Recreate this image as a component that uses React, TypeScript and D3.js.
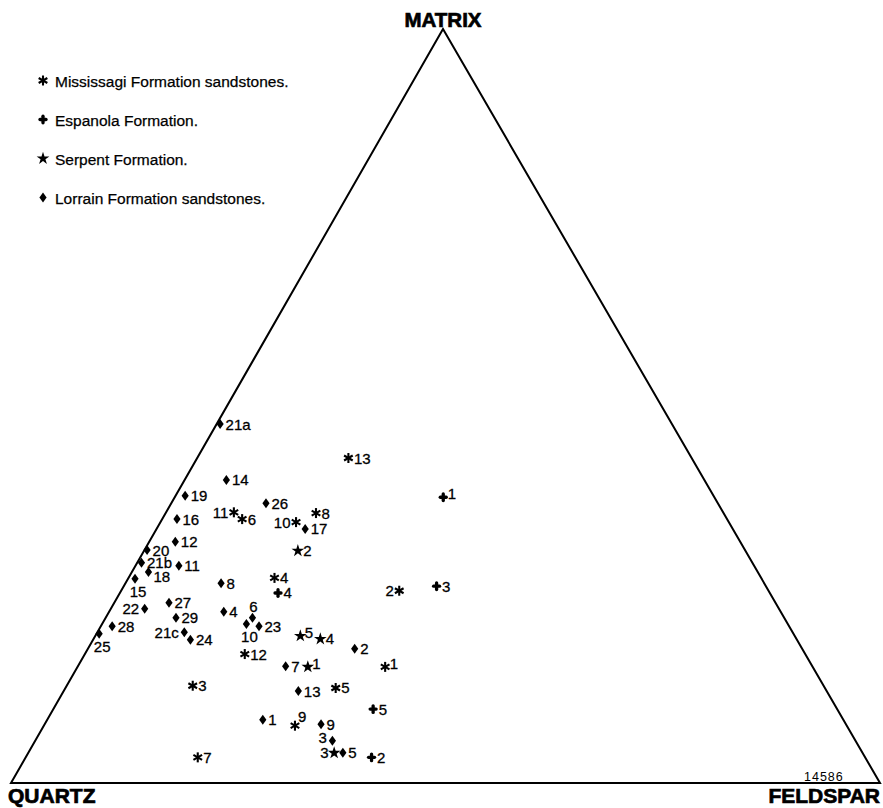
import React from "react";
import * as d3 from "d3";

type Sample = { id: string; q: number; f: number; m: number };

// Ternary percentages (Quartz, Feldspar, Matrix)
const mississagi: Sample[] = [
  { id: "1", q: 49.2, f: 35.4, m: 15.4 },
  { id: "2", q: 42.5, f: 32.0, m: 25.5 },
  { id: "3", q: 72.6, f: 14.5, m: 12.9 },
  { id: "4", q: 56.0, f: 16.8, m: 27.2 },
  { id: "5", q: 56.3, f: 31.1, m: 12.6 },
  { id: "6", q: 55.8, f: 9.2, m: 35.0 },
  { id: "7", q: 76.8, f: 19.8, m: 3.4 },
  { id: "8", q: 46.9, f: 17.3, m: 35.8 },
  { id: "9", q: 63.5, f: 28.9, m: 7.6 },
  { id: "10", q: 49.8, f: 15.6, m: 34.6 },
  { id: "11", q: 56.3, f: 7.8, m: 35.9 },
  { id: "12", q: 64.5, f: 18.4, m: 17.1 },
  { id: "13", q: 39.5, f: 17.4, m: 43.1 },
];

const espanola: Sample[] = [
  { id: "1", q: 31.2, f: 30.9, m: 37.9 },
  { id: "2", q: 56.8, f: 39.8, m: 3.4 },
  { id: "3", q: 37.9, f: 36.0, m: 26.1 },
  { id: "4", q: 56.6, f: 18.2, m: 25.2 },
  { id: "5", q: 53.4, f: 36.8, m: 9.8 },
];

const serpent: Sample[] = [
  { id: "1", q: 58.1, f: 26.5, m: 15.4 },
  { id: "2", q: 51.5, f: 17.7, m: 30.8 },
  { id: "3", q: 60.8, f: 35.2, m: 4.0 },
  { id: "4", q: 54.8, f: 26.1, m: 19.1 },
  { id: "5", q: 56.9, f: 23.6, m: 19.5 },
];

const lorrain: Sample[] = [
  { id: "1", q: 66.8, f: 24.8, m: 8.4 },
  { id: "2", q: 51.5, f: 30.7, m: 17.8 },
  { id: "3", q: 60.2, f: 34.2, m: 5.6 },
  { id: "4", q: 64.1, f: 13.2, m: 22.7 },
  { id: "5", q: 59.8, f: 36.2, m: 4.0 },
  { id: "6", q: 61.2, f: 16.9, m: 21.9 },
  { id: "7", q: 60.6, f: 23.9, m: 15.5 },
  { id: "8", q: 62.5, f: 11.0, m: 26.5 },
  { id: "9", q: 60.4, f: 31.8, m: 7.8 },
  { id: "10", q: 62.3, f: 16.6, m: 21.1 },
  { id: "11", q: 66.2, f: 5.0, m: 28.8 },
  { id: "12", q: 65.0, f: 3.0, m: 32.0 },
  { id: "13", q: 60.8, f: 27.0, m: 12.2 },
  { id: "14", q: 55.0, f: 4.8, m: 40.2 },
  { id: "15", q: 72.1, f: 0.8, m: 27.1 },
  { id: "16", q: 63.3, f: 1.7, m: 35.0 },
  { id: "17", q: 49.2, f: 17.1, m: 33.7 },
  { id: "18", q: 70.1, f: 1.9, m: 28.0 },
  { id: "19", q: 60.8, f: 1.1, m: 38.1 },
  { id: "20", q: 68.8, f: 0.3, m: 30.9 },
  { id: "21a", q: 52.0, f: 0.4, m: 47.6 },
  { id: "21b", q: 70.3, f: 0.5, m: 29.2 },
  { id: "21c", q: 70.0, f: 10.0, m: 20.0 },
  { id: "22", q: 73.0, f: 3.9, m: 23.1 },
  { id: "23", q: 61.0, f: 18.2, m: 20.8 },
  { id: "24", q: 69.8, f: 11.2, m: 19.0 },
  { id: "25", q: 79.9, f: 0.3, m: 19.8 },
  { id: "26", q: 52.0, f: 10.9, m: 37.1 },
  { id: "27", q: 69.8, f: 6.3, m: 23.9 },
  { id: "28", q: 77.9, f: 1.3, m: 20.8 },
  { id: "29", q: 70.0, f: 8.1, m: 21.9 },
];

const vertexLabels = ["QUARTZ", "FELDSPAR", "MATRIX"];
const legendLabels = [
  "Mississagi Formation sandstones.",
  "Espanola Formation.",
  "Serpent Formation.",
  "Lorrain Formation sandstones.",
];
const figureNumber = "14586";

// label side: r (right), ru (right raised), rd (right lowered), l (left), lu (left raised),
// t (top), b (below), tr (top-right)
const labelSide: Record<string, string> = {
  "L:15": "b",
  "L:22": "l",
  "L:6": "t",
  "L:10": "b",
  "L:21c": "l",
  "L:25": "b",
  "L:3": "lu",
  "L:18": "rd",
  "M:11": "l",
  "M:10": "l",
  "M:2": "l",
  "M:9": "tr",
  "M:1": "ru",
  "S:1": "ru",
  "S:5": "ru",
  "E:1": "ru",
  "S:3": "l",
};

const W = 883;
const H = 808;
const Q0 = { x: 11, y: 783 };
const F0 = { x: 880, y: 783 };
const M0 = { x: 443, y: 29 };

const fx = d3.scaleLinear().domain([0, 100]).range([0, F0.x - Q0.x]);
const mx = d3.scaleLinear().domain([0, 100]).range([0, M0.x - Q0.x]);
const my = d3.scaleLinear().domain([0, 100]).range([Q0.y, M0.y]);

function project(s: Sample): [number, number] {
  const tot = s.q + s.f + s.m;
  const f = (s.f / tot) * 100;
  const m = (s.m / tot) * 100;
  return [Q0.x + fx(f) + mx(m), my(m)];
}

const FONT = "'Liberation Sans', Arial, Helvetica, sans-serif";

function Asterisk({ x, y, r = 5 }: { x: number; y: number; r?: number }) {
  const angles = [90, 30, 150];
  return (
    <g>
      {angles.map((a) => {
        const rad = (a * Math.PI) / 180;
        const dx = Math.cos(rad) * r;
        const dy = Math.sin(rad) * r;
        return (
          <line key={a} x1={x - dx} y1={y - dy} x2={x + dx} y2={y + dy} stroke="#000" strokeWidth={2.1} />
        );
      })}
    </g>
  );
}

function Cross({ x, y }: { x: number; y: number }) {
  return (
    <g stroke="#000" strokeWidth={3.3} strokeLinecap="round">
      <line x1={x - 3} y1={y} x2={x + 3} y2={y} />
      <line x1={x} y1={y - 3.3} x2={x} y2={y + 3.3} />
    </g>
  );
}

const starPath = d3.symbol().type(d3.symbolStar).size(50)() as string;
function Star({ x, y }: { x: number; y: number }) {
  return <path d={starPath} transform={`translate(${x},${y})`} fill="#000" />;
}

function Diamond({ x, y }: { x: number; y: number }) {
  const w = 3.6;
  const h = 5;
  return <path d={`M${x},${y - h}L${x + w},${y}L${x},${y + h}L${x - w},${y}Z`} fill="#000" />;
}

function Label({ x, y, text, side }: { x: number; y: number; text: string; side: string }) {
  let tx = x + 5.5;
  let ty = y + 5.5;
  let anchor = "start";
  if (side === "l") {
    tx = x - 5.5;
    anchor = "end";
  } else if (side === "lu") {
    tx = x - 5.5;
    ty = y + 2.5;
    anchor = "end";
  } else if (side === "ru") {
    tx = x + 4.5;
    ty = y + 2;
  } else if (side === "rd") {
    ty = y + 10.5;
    tx = x + 5;
  } else if (side === "t") {
    tx = x + 1;
    ty = y - 6;
    anchor = "middle";
  } else if (side === "b") {
    tx = x + 3;
    ty = y + 18;
    anchor = "middle";
  } else if (side === "tr") {
    tx = x + 3;
    ty = y - 4;
  }
  return (
    <text
      x={tx}
      y={ty}
      textAnchor={anchor}
      fontSize={15}
      fontFamily={FONT}
      fill="#000"
      stroke="#000"
      strokeWidth={0.3}
    >
      {text}
    </text>
  );
}

const series = [
  { key: "M", data: mississagi, Marker: Asterisk },
  { key: "E", data: espanola, Marker: Cross },
  { key: "S", data: serpent, Marker: Star },
  { key: "L", data: lorrain, Marker: Diamond },
];

export default function App() {
  const legendX = 43;
  const legendBase = [87, 126, 165, 204];
  return (
    <svg
      width={W}
      height={H}
      viewBox={`0 0 ${W} ${H}`}
      style={{ position: "absolute", left: 0, top: 0, background: "#fff" }}
    >
      <rect x={0} y={0} width={W} height={H} fill="#fff" />
      <path
        d={`M${Q0.x},${Q0.y}L${F0.x},${F0.y}L${M0.x},${M0.y}Z`}
        fill="none"
        stroke="#000"
        strokeWidth={2}
        strokeLinejoin="miter"
      />
      {/* vertex labels */}
      <text x={8} y={803} fontSize={21} fontWeight={700} fontFamily={FONT} stroke="#000" strokeWidth={0.7}>
        {vertexLabels[0]}
      </text>
      <text x={880} y={803} textAnchor="end" fontSize={21} fontWeight={700} fontFamily={FONT} stroke="#000" strokeWidth={0.7}>
        {vertexLabels[1]}
      </text>
      <text x={443} y={27} textAnchor="middle" fontSize={20.5} fontWeight={700} fontFamily={FONT} stroke="#000" strokeWidth={0.7}>
        {vertexLabels[2]}
      </text>
      <text x={804} y={781} fontSize={12.5} fontFamily={FONT} letterSpacing={1}>
        {figureNumber}
      </text>

      {/* legend */}
      {series.map((s, i) => {
        const M = s.Marker;
        return (
          <g key={s.key}>
            <M x={legendX} y={legendBase[i] - 6.5} />
            <text x={55} y={legendBase[i]} fontSize={15.5} fontFamily={FONT} stroke="#000" strokeWidth={0.25}>
              {legendLabels[i]}
            </text>
          </g>
        );
      })}

      {/* points */}
      {series.map((s) => {
        const M = s.Marker;
        return (
          <g key={s.key}>
            {s.data.map((d) => {
              const [x, y] = project(d);
              return (
                <g key={d.id}>
                  <M x={x} y={y} />
                  <Label x={x} y={y} text={d.id} side={labelSide[`${s.key}:${d.id}`] || "r"} />
                </g>
              );
            })}
          </g>
        );
      })}
    </svg>
  );
}
